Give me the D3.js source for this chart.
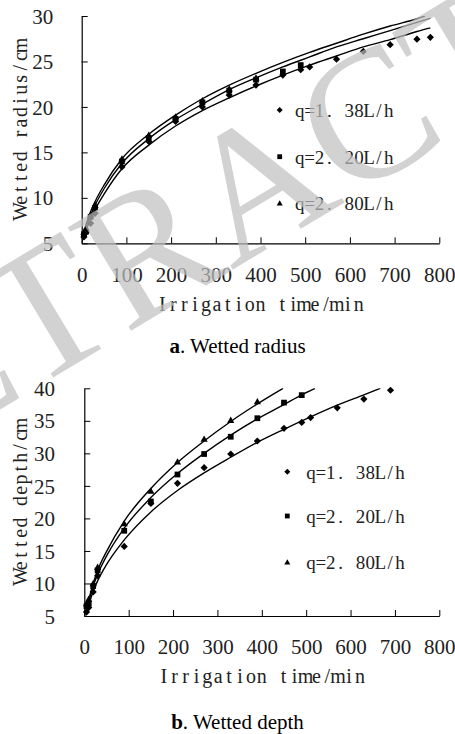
<!DOCTYPE html>
<html>
<head>
<meta charset="utf-8">
<script src="https://cdn.jsdelivr.net/npm/d3@7"></script>
<style>
  body { margin: 0; background: #fff; }
  svg { display: block; }
</style>
</head>
<body>
<div id="chart"></div>
<script>
/* DATA */
const xTicks = [0, 100, 200, 300, 400, 500, 600, 700, 800];
const radiusTicks = [5, 10, 15, 20, 25, 30];
const depthTicks = [5, 10, 15, 20, 25, 30, 35, 40];
const seriesNames = ["q=1. 38L/h", "q=2. 20L/h", "q=2. 80L/h"];

// measured points, a. wetted radius
const radTime138 = [5, 10, 20, 30, 90, 150, 210, 270, 330, 390, 450, 490, 510, 570, 630, 690, 750, 780];
const radius138 = [5.7, 6.2, 7.2, 8.3, 13.4, 16.2, 18.4, 20.0, 21.3, 22.4, 23.5, 24.1, 24.4, 25.25, 26.1, 26.85, 27.45, 27.65];
const radTime220 = [5, 10, 20, 30, 90, 150, 210, 270, 330, 390, 450, 490];
const radius220 = [6.0, 6.3, 7.9, 8.9, 14.0, 16.6, 18.7, 20.5, 21.8, 23.0, 23.9, 24.6];
const radTime280 = [5, 10, 20, 30, 90, 150, 210, 270, 330, 390];
const radius280 = [6.2, 6.6, 8.1, 9.2, 14.3, 16.9, 18.9, 20.7, 22.0, 23.2];

// fitted curves, a. wetted radius
const radFitTime = [4, 10, 20, 30, 50, 90, 150, 210, 270, 330, 390, 450, 510, 570, 630, 690, 750, 780];
const radFitTime280 = [4, 10, 20, 30, 50, 90, 150, 210, 270, 330, 390, 450, 510, 570, 630, 690, 750, 768];
const radFit138 = [5.7, 6.5, 7.6, 8.7, 10.4, 13.2, 15.8, 17.9, 19.6, 21.0, 22.3, 23.5, 24.6, 25.6, 26.6, 27.4, 28.3, 28.7];
const radFit220 = [5.9, 6.8, 8.1, 9.2, 11.0, 13.8, 16.5, 18.6, 20.3, 21.9, 23.2, 24.4, 25.5, 26.6, 27.5, 28.4, 29.3, 29.75];
const radFit280 = [6.1, 7.1, 8.5, 9.6, 11.4, 14.3, 17.0, 19.1, 20.9, 22.4, 23.7, 24.9, 26.0, 27.0, 28.0, 28.9, 29.7, 30.0];

// measured points, b. wetted depth
const depTime138 = [5, 10, 20, 30, 90, 150, 210, 270, 330, 390, 450, 490, 510, 570, 630, 690];
const depth138 = [5.6, 6.3, 8.7, 11.2, 15.7, 22.3, 25.4, 27.8, 29.9, 31.9, 33.85, 34.75, 35.5, 37.0, 38.35, 39.7];
const depTime220 = [5, 10, 20, 30, 90, 150, 210, 270, 330, 390, 450, 490];
const depth220 = [6.5, 6.9, 9.6, 12.0, 18.1, 22.6, 26.75, 29.9, 32.55, 35.4, 37.8, 38.95];
const depTime280 = [5, 10, 20, 30, 90, 150, 210, 270, 330, 390];
const depth280 = [6.9, 7.6, 10.0, 12.5, 19.2, 24.2, 28.7, 32.2, 35.1, 37.95];

// fitted curves, b. wetted depth
const depFitTime138 = [3, 10, 20, 30, 50, 90, 150, 210, 270, 330, 390, 450, 510, 570, 630, 667];
const depFit138 = [6.0, 6.8, 8.8, 10.4, 12.9, 16.7, 21.0, 24.3, 27.0, 29.4, 31.7, 33.7, 35.6, 37.4, 39.0, 40.0];
const depFitTime220 = [3, 10, 20, 30, 50, 90, 150, 210, 270, 330, 390, 450, 490, 520];
const depFit220 = [6.3, 7.3, 9.6, 11.4, 14.2, 18.5, 23.2, 26.9, 30.0, 32.8, 35.3, 37.5, 39.0, 40.0];
const depFitTime280 = [3, 10, 20, 30, 50, 90, 150, 210, 270, 330, 390, 448];
const depFit280 = [6.6, 7.6, 10.0, 12.0, 14.9, 19.6, 24.6, 28.6, 31.9, 34.9, 37.6, 40.0];

/* CONSTANTS */
const width = 455, height = 734;
const serifFont = "'Liberation Serif', 'Times New Roman', serif";

const zip = (xs, ys) => xs.map((x, i) => ({ x, y: ys[i] }));

const svg = d3.select("#chart")
  .append("svg")
  .attr("width", width)
  .attr("height", height);

// fixed-pitch serif text: every character gets its own cell
function monoText(sel, str, x0, advance) {
  const xs = Array.from(str, (c, i) => (x0 + advance * (i + 0.5)).toFixed(2));
  return sel.attr("x", xs.join(" ")).attr("text-anchor", "middle").text(str);
}

// marker shapes: diamond, square, triangle
function markerPath(kind, s) {
  if (kind === 0) return `M0,${-s}L${s},0L0,${s}L${-s},0Z`;
  if (kind === 1) return `M${-s * 0.8},${-s * 0.8}H${s * 0.8}V${s * 0.8}H${-s * 0.8}Z`;
  return `M0,${-s}L${s},${s * 0.75}L${-s},${s * 0.75}Z`;
}

function drawPanel(p) {
  const x = d3.scaleLinear().domain([0, 800]).range([p.left, p.right]);
  const y = d3.scaleLinear().domain(p.yDomain).range([p.bottom, p.top]);
  const g = svg.append("g");

  // x axis, ticks pointing inward
  g.append("g")
    .attr("transform", `translate(0,${p.bottom})`)
    .call(d3.axisBottom(x).tickValues(xTicks).tickSizeInner(-6).tickSizeOuter(0))
    .call(a => a.select(".domain").attr("stroke-width", 1.2))
    .call(a => a.selectAll("text")
      .attr("y", 38.4).attr("dy", 0)
      .attr("font-family", serifFont).attr("font-size", 21).attr("fill", "#222"));

  g.append("g")
    .attr("transform", `translate(${p.left},0)`)
    .call(d3.axisLeft(y).tickValues(p.yTicks).tickSizeInner(-6).tickSizeOuter(0))
    .call(a => a.select(".domain").attr("stroke-width", 1.2))
    .call(a => a.selectAll("text")
      .attr("x", -p.labelGap).attr("dy", "0.34em")
      .attr("font-family", serifFont).attr("font-size", 21).attr("fill", "#222"));

  const xTitle = "Irrigation time/min";
  g.append("text")
    .attr("y", p.xTitleY)
    .attr("font-family", serifFont)
    .attr("font-size", 20)
    .attr("fill", "#222")
    .call(t => monoText(t, xTitle, (p.left + p.right) / 2 - 103.5, 10.9));

  g.append("text")
    .attr("transform", `translate(${p.yTitleX},${p.yTitleCy}) rotate(-90)`)
    .attr("font-family", serifFont)
    .attr("font-size", 20)
    .attr("fill", "#222")
    .call(t => monoText(t, p.yTitle, -p.yTitleLen / 2, p.yTitleLen / p.yTitle.length));

  // caption
  const cap = g.append("text")
    .attr("x", 237.5)
    .attr("y", p.captionY)
    .attr("text-anchor", "middle")
    .attr("font-family", serifFont)
    .attr("font-size", 21);
  cap.append("tspan").attr("font-weight", "bold").text(p.captionKey);
  cap.append("tspan").text(p.captionText);

  // fitted curves, clipped to plot area
  const clipId = "clip-" + p.id;
  svg.append("clipPath").attr("id", clipId)
    .append("rect")
    .attr("x", p.left).attr("y", p.top)
    .attr("width", p.right - p.left).attr("height", p.bottom - p.top);

  const line = d3.line()
    .x(d => x(d.x))
    .y(d => y(d.y))
    .curve(d3.curveMonotoneX);

  g.append("g")
    .attr("clip-path", `url(#${clipId})`)
    .selectAll("path")
    .data(p.fits)
    .join("path")
    .attr("d", line)
    .attr("fill", "none")
    .attr("stroke", "#000")
    .attr("stroke-width", 1.4);

  // measured points
  p.points.forEach((pts, k) => {
    g.append("g")
      .selectAll("path")
      .data(pts)
      .join("path")
      .attr("transform", d => `translate(${x(d.x)},${y(d.y)})`)
      .attr("d", markerPath(k, 3.6))
      .attr("fill", "#000");
  });

  // legend
  const leg = g.append("g");
  seriesNames.forEach((name, k) => {
    const ly = p.legendY[k];
    leg.append("path")
      .attr("transform", `translate(${p.legendX},${ly})`)
      .attr("d", markerPath(k, 3))
      .attr("fill", "#000");
    leg.append("text")
      .attr("y", ly + 6.8)
      .attr("font-family", serifFont)
      .attr("font-size", 19)
      .attr("fill", "#222")
      .call(t => monoText(t, name, p.legendX + p.legendGap, 9.9));
  });
}

drawPanel({
  id: "radius",
  left: 81.7, right: 439.3, top: 16, bottom: 243.3,
  yDomain: [5, 30], yTicks: radiusTicks, labelGap: 28.4,
  xTitleY: 311, yTitle: "Wetted radius/cm", yTitleX: 26.7, yTitleCy: 128.5, yTitleLen: 177,
  captionY: 353.3, captionKey: "a", captionText: ". Wetted radius",
  fits: [zip(radFitTime, radFit138), zip(radFitTime, radFit220), zip(radFitTime280, radFit280)],
  points: [zip(radTime138, radius138), zip(radTime220, radius220), zip(radTime280, radius280)],
  legendX: 279.7, legendGap: 15, legendY: [110, 156.7, 203.3]
});

drawPanel({
  id: "depth",
  left: 84.3, right: 439.3, top: 388.3, bottom: 616,
  yDomain: [5, 40], yTicks: depthTicks, labelGap: 29.3,
  xTitleY: 683.3, yTitle: "Wetted depth/cm", yTitleX: 27.3, yTitleCy: 501, yTitleLen: 162,
  captionY: 729.3, captionKey: "b", captionText: ". Wetted depth",
  fits: [zip(depFitTime138, depFit138), zip(depFitTime220, depFit220), zip(depFitTime280, depFit280)],
  points: [zip(depTime138, depth138), zip(depTime220, depth220), zip(depTime280, depth280)],
  legendX: 287.3, legendGap: 18.7, legendY: [471.7, 516, 562.3]
});

// retraction watermark on top
svg.append("text")
  .attr("transform", "translate(-174,514) rotate(-31)")
  .attr("font-family", serifFont)
  .attr("font-size", 185)
  .attr("fill", "#c0c0c0")
  .attr("opacity", 0.7)
  .text("RETRACTED");
</script>
</body>
</html>
